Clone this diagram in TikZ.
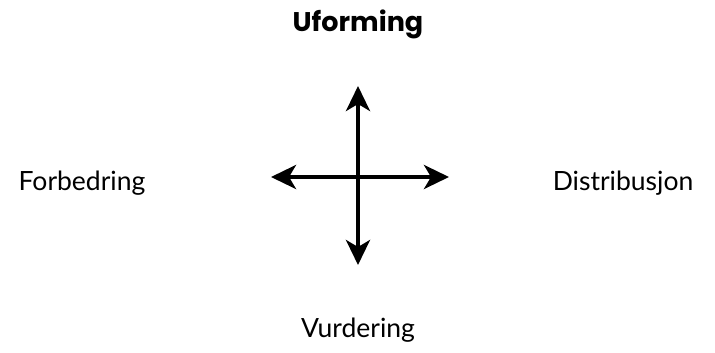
\documentclass[tikz,border=0pt]{standalone}
\usepackage{fontspec}
\setmainfont{Lato}
\newfontfamily\titlefont{Poppins}
\usetikzlibrary{arrows.meta}
\begin{document}
\begin{tikzpicture}[x=1pt,y=-1pt,
  lbl/.style={font=\fontsize{26.5}{30}\selectfont, inner sep=0pt},
  arr/.style={line width=4pt, -{Stealth[length=25pt,width=24pt,inset=7pt]}}]
\useasboundingbox (0,0) rectangle (715,353);
\node[inner sep=0pt, font=\titlefont\fontsize{27}{32}\selectfont\bfseries] (u) at (358,24) {Uforming};
\node[lbl] (f) at (82,183) {Forbedring};
\node[lbl] (d) at (623,183) {Distribusjon};
\node[lbl] (v) at (358,330) {Vurdering};
\coordinate (c) at (358,177);
\coordinate (top) at (358,86);
\coordinate (bot) at (358,265);
\coordinate (lft) at (271,177);
\coordinate (rgt) at (449,177);
\draw[arr] (c) -- (top);
\draw[arr] (c) -- (bot);
\draw[arr] (c) -- (lft);
\draw[arr] (c) -- (rgt);
\end{tikzpicture}
\end{document}
